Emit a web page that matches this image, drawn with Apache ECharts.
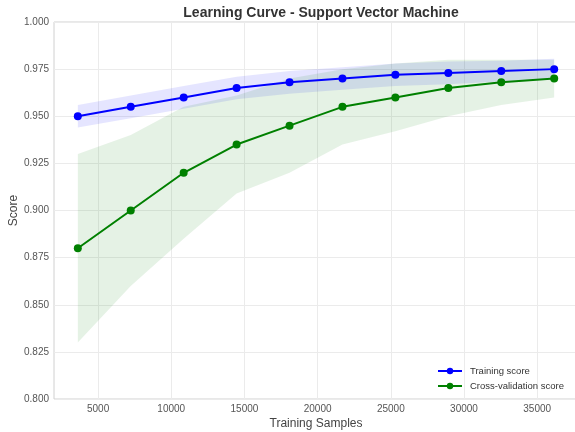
<!DOCTYPE html>
<html>
<head>
<meta charset="utf-8">
<script src="https://cdn.jsdelivr.net/npm/echarts@6/dist/echarts.min.js"></script>
<style>
  html, body { margin: 0; padding: 0; background: #fff; }
  #chart { width: 575px; height: 432px; }
</style>
</head>
<body>
<div id="chart"></div>
<script>
// Training set sizes used for each learning-curve step
const trainSizes = [3616, 7232, 10848, 14464, 18080, 21696, 25312, 28928, 32544, 36160];
// Mean scores across CV folds
const trainMean = [0.950, 0.955, 0.960, 0.965, 0.968, 0.970, 0.972, 0.973, 0.974, 0.975];
const cvMean    = [0.880, 0.900, 0.920, 0.935, 0.945, 0.955, 0.960, 0.965, 0.968, 0.970];
// Standard deviation across folds (shaded bands are mean ± std)
const trainStd  = [0.006, 0.006, 0.006, 0.006, 0.006, 0.006, 0.006, 0.006, 0.0055, 0.0055];
const cvStd     = [0.050, 0.040, 0.035, 0.026, 0.025, 0.020, 0.018, 0.015, 0.012, 0.010];
// Axis tick positions
const xTicks = [5000, 10000, 15000, 20000, 25000, 30000, 35000];

const FONT = '"Liberation Sans", Arial, sans-serif';

const pairs = (ys) => trainSizes.map((x, i) => [x, ys[i]]);

// Shaded mean ± std region, drawn as one polygon through the axis scales
function bandSeries(name, mean, std, color) {
  const rows = trainSizes.map((x, i) => [x, mean[i] - std[i], mean[i] + std[i]]);
  return {
    name: name, type: 'custom', silent: true, z: 1,
    data: rows,
    encode: { x: 0, y: [1, 2] },
    renderItem: (params, api) => {
      if (params.dataIndex !== 0) return null;
      const top = rows.map(r => api.coord([r[0], r[2]]));
      const bottom = rows.map(r => api.coord([r[0], r[1]])).reverse();
      return {
        type: 'polygon',
        shape: { points: top.concat(bottom) },
        style: { fill: color }
      };
    }
  };
}

const chart = echarts.init(document.getElementById('chart'), null, { renderer: 'canvas' });

chart.setOption({
  animation: false,
  backgroundColor: '#fff',
  textStyle: { fontFamily: FONT },
  title: {
    text: 'Learning Curve - Support Vector Machine',
    left: 316, top: 1, textAlign: 'center',
    textStyle: { fontFamily: FONT, fontSize: 14, fontWeight: 'bold', color: '#333' }
  },
  grid: {
    left: 54, right: -3, top: 22, bottom: 33,
    outerBoundsMode: 'none', containLabel: false,
    show: true, borderColor: '#d0d0d0', borderWidth: 1, backgroundColor: '#fff'
  },
  legend: {
    data: ['Training score', 'Cross-validation score'],
    orient: 'vertical', left: 432, top: 361,
    itemWidth: 24, itemHeight: 8, itemGap: 5,
    textStyle: { fontFamily: FONT, fontSize: 9.5, color: '#333', padding: [0, 0, 0, 3] }
  },
  xAxis: {
    type: 'value', min: 1989, max: 37787,
    name: 'Training Samples', nameLocation: 'middle', nameGap: 19, nameMoveOverlap: false,
    nameTextStyle: { fontFamily: FONT, fontSize: 12, color: '#444' },
    axisLine: { show: false },
    axisTick: { show: false, customValues: xTicks },
    axisLabel: {
      customValues: xTicks, fontFamily: FONT, fontSize: 10, color: '#555', margin: 5,
      formatter: v => String(v)
    },
    splitLine: { show: true, lineStyle: { color: '#ebebeb', width: 1 } }
  },
  yAxis: {
    type: 'value', min: 0.8, max: 1.0, interval: 0.025,
    name: 'Score', nameLocation: 'middle', nameGap: 34, nameMoveOverlap: false,
    nameTextStyle: { fontFamily: FONT, fontSize: 12, color: '#444' },
    axisLine: { show: false },
    axisTick: { show: false },
    axisLabel: {
      fontFamily: FONT, fontSize: 10, color: '#555', margin: 5,
      formatter: v => v.toFixed(3)
    },
    splitLine: { show: true, lineStyle: { color: '#ebebeb', width: 1 } }
  },
  series: [
    bandSeries('train band', trainMean, trainStd, 'rgba(0,0,255,0.1)'),
    bandSeries('cv band', cvMean, cvStd, 'rgba(0,128,0,0.1)'),
    {
      name: 'Training score', type: 'line', data: pairs(trainMean),
      symbol: 'circle', symbolSize: 8, showAllSymbol: true,
      itemStyle: { color: '#0000ff' },
      lineStyle: { color: '#0000ff', width: 2 }, z: 3
    },
    {
      name: 'Cross-validation score', type: 'line', data: pairs(cvMean),
      symbol: 'circle', symbolSize: 8, showAllSymbol: true,
      itemStyle: { color: '#008000' },
      lineStyle: { color: '#008000', width: 2 }, z: 4
    }
  ]
});
</script>
</body>
</html>
